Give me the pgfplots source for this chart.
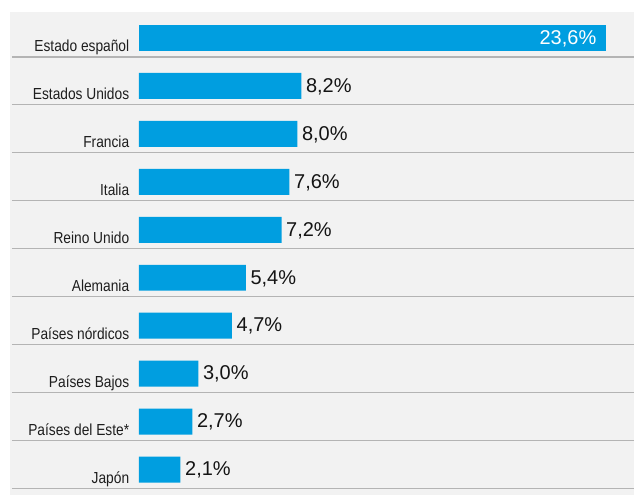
\documentclass[border=0pt]{standalone}
\usepackage{pgfplots}
\pgfplotsset{compat=1.18}
\usepackage{fontspec}
\setmainfont{Liberation Sans}
\newfontfamily\narrowfont[FakeStretch=0.86]{Liberation Sans}
\definecolor{barblue}{RGB}{0,158,224}
\definecolor{panelgray}{RGB}{242,242,242}
\definecolor{rulegray}{RGB}{180,180,180}

\begin{document}
\begin{tikzpicture}
  % page frame and grey panel
  \path (0,0) rectangle (635bp,495bp);
  \fill[panelgray] (10bp,0) rectangle (635bp,483bp);
  \foreach \i in {0,...,9} {
    \draw[rulegray, line width=1.2bp] (12bp,{438bp-48bp*\i}) -- (635bp,{438bp-48bp*\i});
  }
  \begin{axis}[
    at={(139bp,0bp)}, anchor=south west,
    scale only axis,
    width=496bp, height=495bp,
    xmin=0, xmax=25.01,
    ymin=-0.7917, ymax=9.5208,
    y dir=reverse,
    enlargelimits=false,
    axis lines=none,
    clip=false,
    xbar, bar width=26bp, bar shift=0pt,
    ytick={0,...,9},
    yticklabels={},
    /pgf/number format/assume math mode=true,
  ]
    \addplot[draw=none, fill=barblue,
      nodes near coords={\pgfmathprintnumber[fixed,fixed zerofill,precision=1,use comma]{\pgfplotspointmeta}\%},
      every node near coord/.style={anchor=base east, inner sep=0pt, xshift=-10bp, yshift=-6.3bp,
        text=white, font=\fontsize{20bp}{23bp}\selectfont}]
      coordinates {(23.6,0)};
    \addplot[draw=none, fill=barblue,
      nodes near coords={\pgfmathprintnumber[fixed,fixed zerofill,precision=1,use comma]{\pgfplotspointmeta}\%},
      every node near coord/.style={anchor=base west, inner sep=0pt, xshift=4.5bp, yshift=-6.3bp,
        text={rgb,255:red,20;green,20;blue,20}, font=\fontsize{20bp}{23bp}\selectfont}]
      coordinates {(8.2,1) (8.0,2) (7.6,3) (7.2,4) (5.4,5) (4.7,6) (3.0,7) (2.7,8) (2.1,9)};
    % category names
    \foreach \lab [count=\k from 0] in {Estado español,Estados Unidos,Francia,Italia,Reino Unido,Alemania,Países nórdicos,Países Bajos,Países del Este*,Japón} {
      \edef\tmp{\noexpand\node[anchor=base east, inner sep=0pt, xshift=-9.5bp, yshift=-14bp,
        font=\noexpand\narrowfont\noexpand\fontsize{16bp}{18bp}\noexpand\selectfont, text={rgb,255:red,30;green,30;blue,30}]
        at (axis cs:0,\k) {\lab};}
      \tmp
    }
  \end{axis}
\end{tikzpicture}
\end{document}
